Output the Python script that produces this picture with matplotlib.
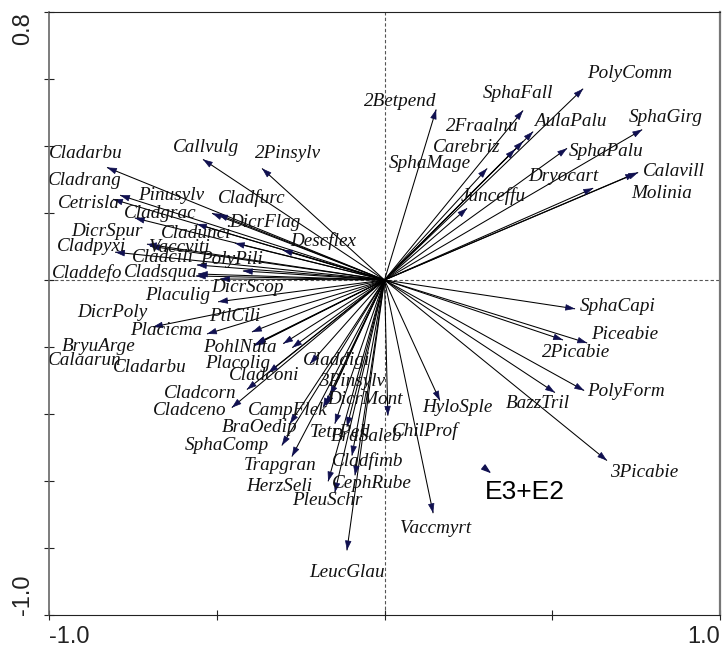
import matplotlib
matplotlib.use("Agg")
import matplotlib.pyplot as plt

# ---- data: species arrow tips (ordination axis 1, axis 2) ----
species = ["Cladarbu", "Callvulg", "2Pinsylv", "Cladrang", "Cetrisla", "Pinusylv",
           "Cladfurc", "Cladgrac", "DicrFlag", "Cladunci", "Descflex", "DicrSpur",
           "Vaccviti", "Cladpyxi", "Cladcili", "PolyPili", "Cladsqua", "Claddefo",
           "DicrScop", "Placulig", "DicrPoly", "Placicma", "PtlCili", "PohlNuta",
           "Placolig", "BryuArge", "Calaarun", "Cladarbu", "Claddigi", "Cladconi",
           "Cladcorn", "Cladceno", "3Pinsylv", "DicrMont", "CampFlek", "TetrPell",
           "BraOedip", "SphaComp", "Trapgran", "HerzSeli", "BraSaleb", "Cladfimb",
           "CephRube", "PleuSchr", "LeucGlau", "Vaccmyrt", "ChilProf", "HyloSple",
           "SphaCapi", "Piceabie", "2Picabie", "PolyForm", "BazzTril", "3Picabie",
           "PolyComm", "SphaFall", "AulaPalu", "2Fraalnu", "Carebriz", "SphaMage",
           "Junceffu", "2Betpend", "SphaPalu", "SphaGirg", "Dryocart", "Calavill",
           "Molinia"]
axis1 = [-0.827, -0.541, -0.365, -0.788, -0.809, -0.514,
         -0.496, -0.744, -0.559, -0.446, -0.303, -0.708,
         -0.699, -0.803, -0.559, -0.422, -0.556, -0.562,
         -0.490, -0.496, -0.690, -0.529, -0.395, -0.386,
         -0.275, -0.383, -0.389, -0.302, -0.222, -0.346,
         -0.410, -0.455, -0.162, -0.174, -0.183, -0.148,
         -0.282, -0.306, -0.276, -0.168, -0.112, -0.097,
         -0.088, -0.148, -0.112, 0.145, 0.010, 0.165,
         0.568, 0.604, 0.532, 0.595, 0.508, 0.663,
         0.592, 0.413, 0.443, 0.413, 0.389, 0.306,
         0.246, 0.154, 0.544, 0.768, 0.622, 0.756,
         0.747]
axis2 = [0.336, 0.360, 0.333, 0.253, 0.241, 0.199,
         0.196, 0.185, 0.167, 0.110, 0.089, 0.107,
         0.101, 0.083, 0.045, 0.027, 0.018, 0.012,
         0.003, -0.065, -0.140, -0.161, -0.155, -0.193,
         -0.202, -0.190, -0.196, -0.190, -0.250, -0.277,
         -0.327, -0.381, -0.345, -0.375, -0.381, -0.429,
         -0.429, -0.494, -0.527, -0.601, -0.438, -0.524,
         -0.583, -0.634, -0.807, -0.696, -0.405, -0.360,
         -0.086, -0.188, -0.179, -0.330, -0.336, -0.539,
         0.571, 0.506, 0.443, 0.414, 0.390, 0.333,
         0.214, 0.509, 0.393, 0.449, 0.274, 0.321,
         0.318]

# environmental variable (short arrow)
env_name = ["E3+E2"]
env_start = [(0.300, -0.5625)]
env_end = [(0.318, -0.577)]

# label offsets (pixels) from arrow tips
label_offsets = [(-21, 14), (3, 12), (26, 15), (-35, 15), (-24, -4), (-41, 18),
                 (34, 16), (25, 5), (68, 2), (-39, 10), (40, 9), (-40, 13),
                 (29, -1), (-23, 6), (-34, 7), (-11, 11), (-37, 1), (-109, 3),
                 (27, -9), (-40, 6), (-41, 14), (-41, 3), (-17, 15), (-15, -3),
                 (-55, -16), (-157, -3), (-169, -15), (-133, -24), (27, 3), (-4, -3),
                 (-47, -4), (-42, -3), (22, 14), (39, 6), (-35, -3), (5, -9),
                 (-30, -4), (-55, 0), (-12, -9), (-49, -5), (20, -10), (16, -6),
                 (17, -8), (-8, -8), (0, -22), (2, -15), (37, -15), (18, -7),
                 (43, 2), (38, 8), (13, -13), (42, -1), (-17, -11), (37, -12),
                 (46, 15), (-5, 17), (37, 10), (-41, 15), (-48, 2), (-57, 5),
                 (26, 12), (-36, 8), (39, -3), (24, 12), (-30, 12), (36, 1),
                 (27, -20)]
env_offsets = [(34, -19)]

xticks = [-1.0, -0.5, 0.0, 0.5, 1.0]
yticks = [-1.0, -0.8, -0.6, -0.4, -0.2, 0.0, 0.2, 0.4, 0.6, 0.8]

# ---- figure ----
fig = plt.figure(figsize=(7.22, 6.48), dpi=100)
ax = fig.add_axes([49 / 722, 33 / 648, 671 / 722, 603 / 648])
ax.set_xlim(-1.0, 1.0)
ax.set_ylim(-1.0, 0.8)

ax.axhline(0, color="#555555", lw=0.8, ls=(0, (3, 2)), zorder=1)
ax.axvline(0, color="#555555", lw=0.8, ls=(0, (3, 2)), zorder=1)

head_col = "#101050"
for name, x, y, (dx, dy) in zip(species, axis1, axis2, label_offsets):
    ax.plot([0, x], [0, y], color="black", lw=0.75, zorder=2, solid_capstyle="butt")
    ax.annotate("", xy=(x, y), xytext=(x * 0.97, y * 0.97),
                arrowprops=dict(arrowstyle="-|>,head_length=0.6,head_width=0.2",
                                color=head_col, lw=0.5, shrinkA=0, shrinkB=0),
                zorder=3)
    ax.annotate(name, xy=(x, y), xytext=(dx, dy), textcoords="offset pixels",
                ha="center", va="center", fontsize=13.8, style="italic",
                family="Liberation Serif", color="#111111", zorder=4)

for name, (x0, y0), (x1, y1), (dx, dy) in zip(env_name, env_start, env_end, env_offsets):
    ax.annotate("", xy=(x1, y1), xytext=(x0, y0),
                arrowprops=dict(arrowstyle="-|>,head_length=0.6,head_width=0.2",
                                color=head_col, lw=0.8, shrinkA=0, shrinkB=0))
    ax.annotate(name, xy=(x1, y1), xytext=(dx, dy), textcoords="offset pixels",
                ha="center", va="center", fontsize=19, family="Liberation Sans",
                color="black")

ax.set_xticks(xticks)
ax.set_yticks(yticks)
ax.set_xticklabels(["-1.0" if t == -1.0 else ("1.0" if t == 1.0 else "") for t in xticks])
ax.set_yticklabels(["-1.0" if t == -1.0 else ("0.8" if t == 0.8 else "") for t in yticks])
ax.tick_params(direction="inout", length=7, width=0.8, colors="#222222",
               labelsize=17)
ax.tick_params(axis="x", pad=4.5)
ax.tick_params(axis="y", pad=7)
for lab in ax.get_xticklabels():
    lab.set_family("Liberation Sans")
    if lab.get_text() == "-1.0":
        lab.set_ha("left")
    elif lab.get_text() == "1.0":
        lab.set_ha("right")
for lab in ax.get_yticklabels():
    lab.set_family("Liberation Sans")
    lab.set_rotation(90)
    if lab.get_text() == "-1.0":
        lab.set_va("bottom")
    elif lab.get_text() == "0.8":
        lab.set_va("top")
    lab.set_ha("right")

ax.spines["left"].set_color("#666666")
ax.spines["right"].set_color("#777777")
ax.spines["right"].set_linewidth(1.6)
ax.spines["top"].set_color("#222222")
ax.spines["bottom"].set_color("#222222")
for s in ax.spines.values():
    s.set_zorder(5)
ax.spines["left"].set_linewidth(1.2)

fig.savefig("out.png", dpi=100)
